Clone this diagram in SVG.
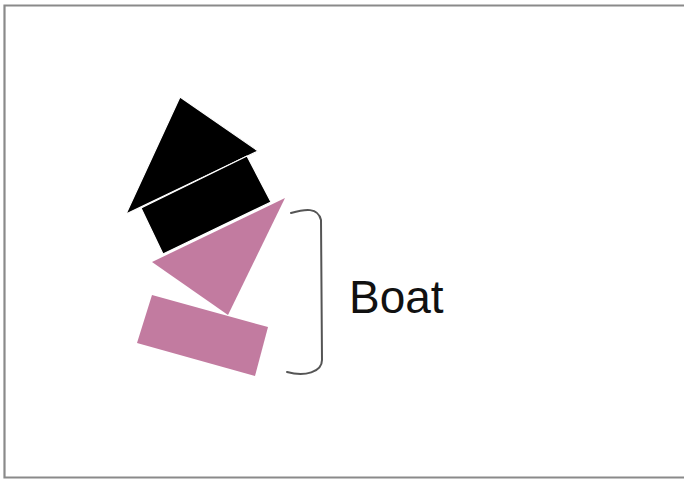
<svg xmlns="http://www.w3.org/2000/svg" width="684" height="480" viewBox="0 0 684 480">
<style>
.black{fill:#000;stroke:#fff;stroke-width:1.2;stroke-linejoin:round}
.pink{fill:#c27ba0;stroke:none}
.brace{fill:none;stroke:#555;stroke-width:2;stroke-linecap:round}
.frame{fill:none;stroke:#8a8a8a;stroke-width:2.2}
.label{font-family:"Liberation Sans",Arial,sans-serif;font-size:46px;fill:#111}
</style>
<rect width="684" height="480" fill="#fff"/>
<path class="frame" d="M686,5.5 H4.5 V477.5 H686"/>
<g id="house-roof"><polygon class="black" points="180,97 258,151 126,214"/></g>
<g id="house-body"><polygon class="black" points="141,208 247,156 271,202 163,254"/></g>
<g id="sail"><polygon class="pink" points="285,198 152,262 228,315"/></g>
<g id="hull"><polygon class="pink" points="152,295 268,327 255,376 137,343"/></g>
<g id="connectors"><path class="brace" d="M291,213 C305,209 318,207 321,220 L322,360 C322,372 305,377 287,372"/></g>
<g id="boat-label"><text class="label" x="349" y="313">Boat</text></g>
</svg>
